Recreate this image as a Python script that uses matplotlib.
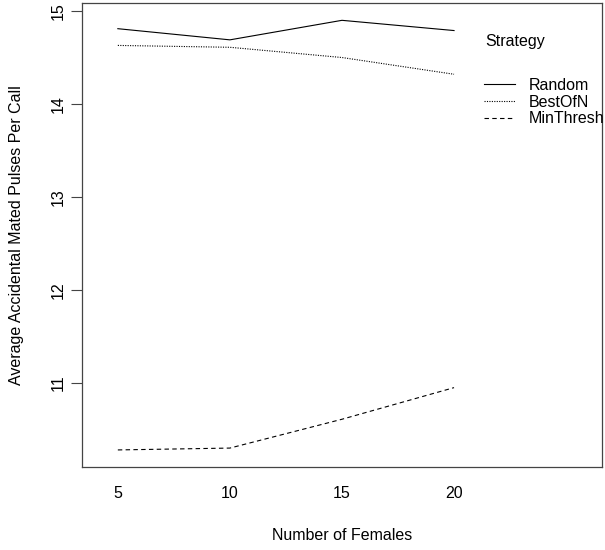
import matplotlib.pyplot as plt
from matplotlib.lines import Line2D

plt.rcParams['font.family'] = ['Liberation Sans', 'DejaVu Sans']

# data
females = [5, 10, 15, 20]
random_vals = [14.81, 14.69, 14.90, 14.79]
bestofn_vals = [14.63, 14.61, 14.50, 14.32]
minthresh_vals = [10.28, 10.30, 10.61, 10.95]
strategies = ['Random', 'BestOfN', 'MinThresh']
y_ticks = [11, 12, 13, 14, 15]

fs = 11.5
fig = plt.figure(figsize=(6.05, 5.5), dpi=100)
ax = fig.add_axes([0.1355, 0.151, 0.8595, 0.8435])

xpos = list(range(1, len(females) + 1))
styles = ['-', (0, (1, 1.2)), (0, (4, 3))]
series = [random_vals, bestofn_vals, minthresh_vals]
for vals, ls in zip(series, styles):
    ax.plot(xpos, vals, color='black', linestyle=ls, linewidth=0.8)

ax.set_xlim(0.68, 5.32)
ax.set_ylim(10.097, 15.086)
ax.set_xticks(xpos)
ax.set_xticklabels([str(f) for f in females], fontsize=fs)
ax.tick_params(axis='x', length=0, pad=14)
ax.set_yticks(y_ticks)
ax.set_yticklabels([str(t) for t in y_ticks], fontsize=fs, rotation=90, va='center')
ax.tick_params(axis='y', length=8, width=0.8, color='#444444', pad=4)
for sp in ax.spines.values():
    sp.set_color('#444444')
    sp.set_linewidth(0.9)

ax.set_xlabel('Number of Females', fontsize=fs, labelpad=19)
ax.set_ylabel('Average Accidental Mated Pulses Per Call', fontsize=fs, labelpad=19)

# legend drawn inside the extended right-hand margin of the plot
ax.text(4.0 + (485 - 454) / 112, 15 - (41 - 11) / 93, 'Strategy', fontsize=fs,
        ha='left', va='center')
handles = [Line2D([], [], color='black', linestyle=ls, linewidth=0.8) for ls in styles]
ax.legend(handles, strategies, loc='upper left', frameon=False, fontsize=fs,
          bbox_to_anchor=((486 - 82) / 520 - 0.003, 1 - (78 - 3) / 464),
          handlelength=1.9, handletextpad=0.85, labelspacing=0.1,
          borderaxespad=0, borderpad=0)

fig.savefig('out.png', dpi=100)
